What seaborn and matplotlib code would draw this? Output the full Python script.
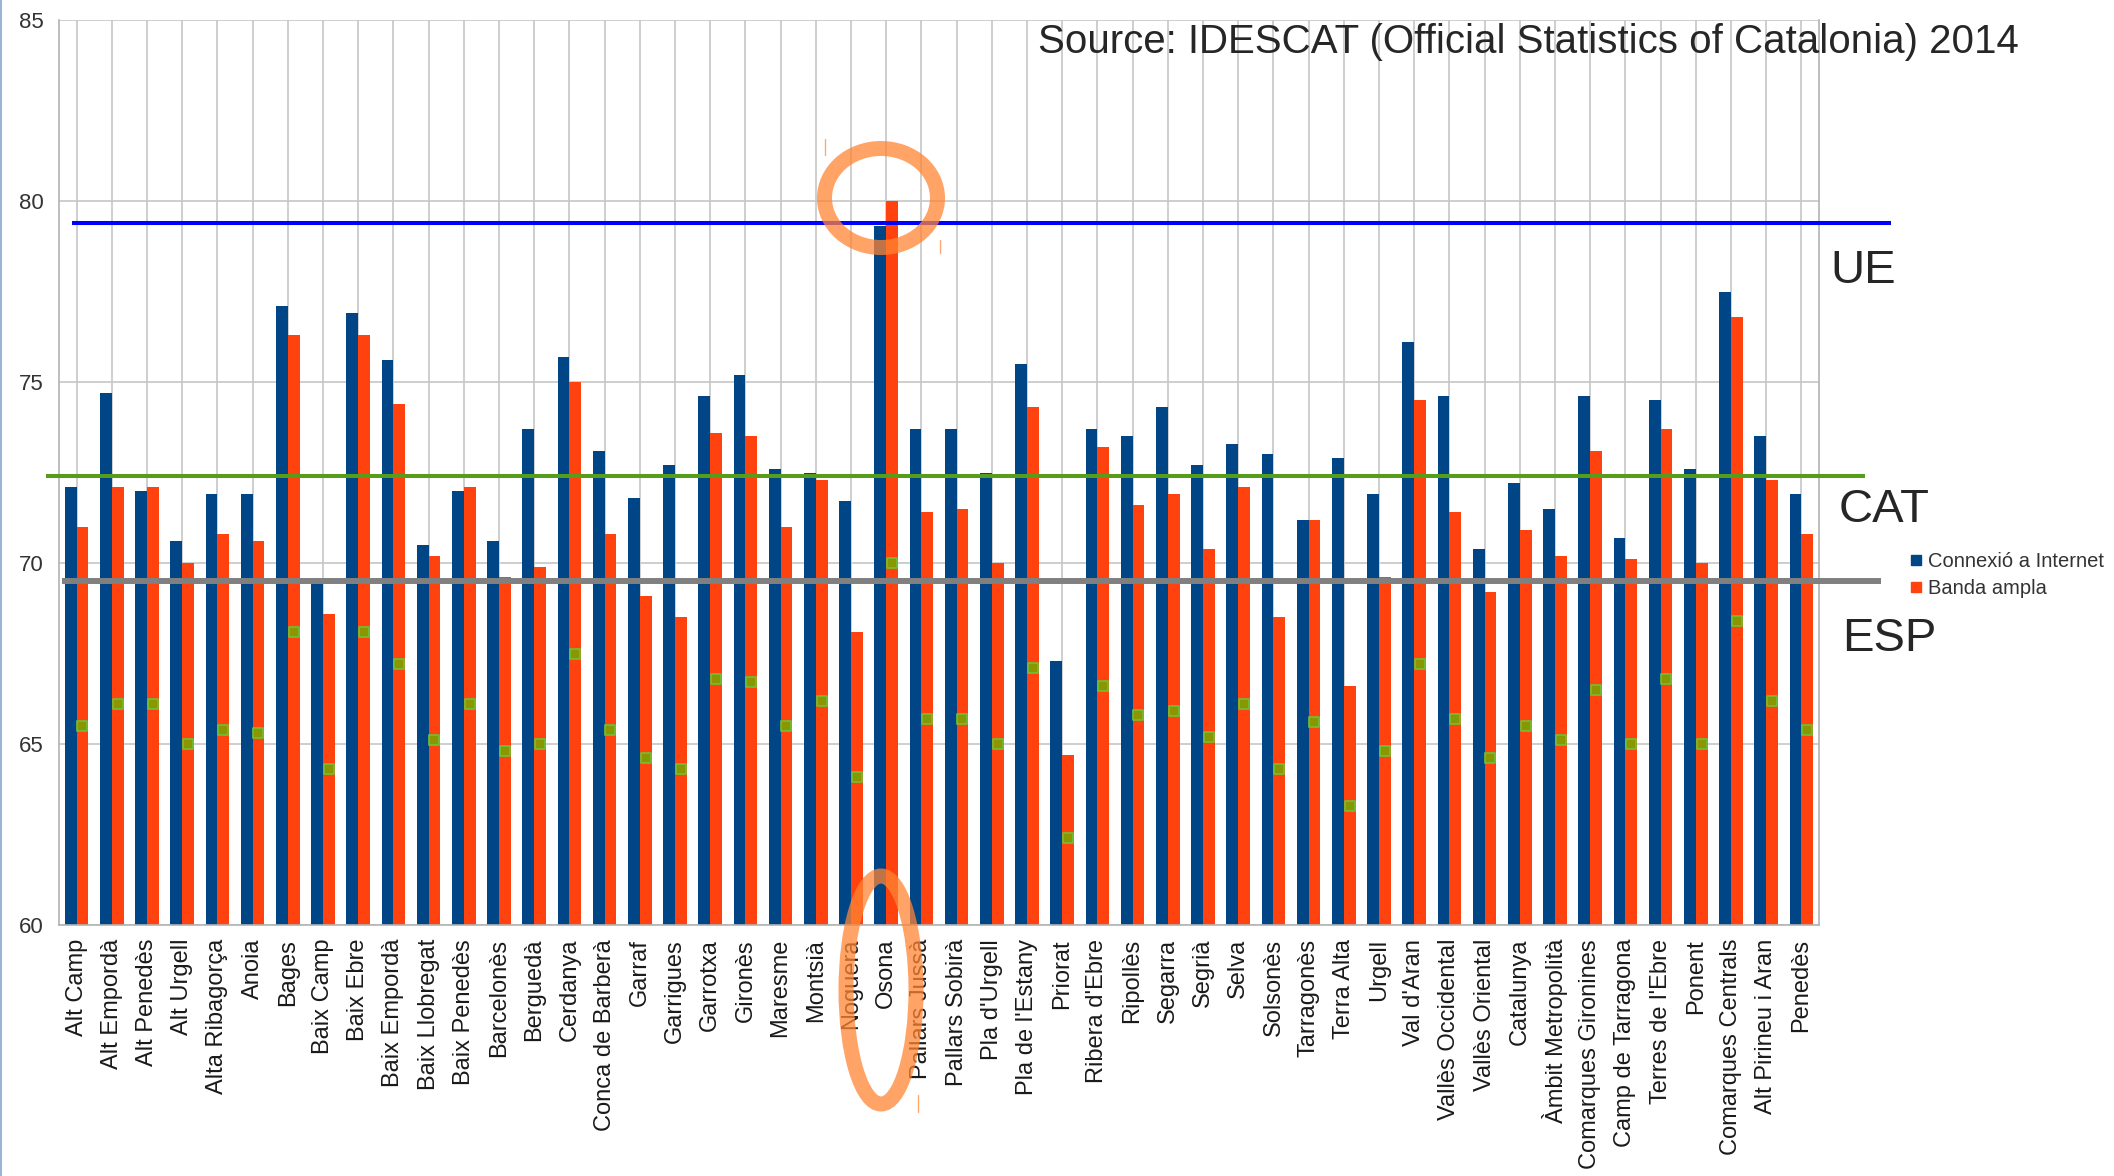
"""Internet connection and broadband by comarca, IDESCAT 2014 - bar chart with reference lines."""
import numpy as np
import pandas as pd
import matplotlib
matplotlib.use("Agg")
import matplotlib.pyplot as plt
import seaborn as sns
from matplotlib.patches import Ellipse
from matplotlib.lines import Line2D

sns.set_style("white")
plt.rcParams["font.family"] = ["Liberation Sans", "DejaVu Sans"]

# ---- data ----
comarques = ["Alt Camp", "Alt Empordà", "Alt Penedès", "Alt Urgell", "Alta Ribagorça", "Anoia",
             "Bages", "Baix Camp", "Baix Ebre", "Baix Empordà", "Baix Llobregat", "Baix Penedès",
             "Barcelonès", "Berguedà", "Cerdanya", "Conca de Barberà", "Garraf", "Garrigues",
             "Garrotxa", "Gironès", "Maresme", "Montsià", "Noguera", "Osona", "Pallars Jussà",
             "Pallars Sobirà", "Pla d'Urgell", "Pla de l'Estany", "Priorat", "Ribera d'Ebre",
             "Ripollès", "Segarra", "Segrià", "Selva", "Solsonès", "Tarragonès", "Terra Alta",
             "Urgell", "Val d'Aran", "Vallès Occidental", "Vallès Oriental", "Catalunya",
             "Àmbit Metropolità", "Comarques Gironines", "Camp de Tarragona", "Terres de l'Ebre",
             "Ponent", "Comarques Centrals", "Alt Pirineu i Aran", "Penedès"]
internet = [72.1, 74.7, 72.0, 70.6, 71.9, 71.9, 77.1, 69.5, 76.9, 75.6, 70.5, 72.0,
            70.6, 73.7, 75.7, 73.1, 71.8, 72.7, 74.6, 75.2, 72.6, 72.5, 71.7, 79.3, 73.7,
            73.7, 72.5, 75.5, 67.3, 73.7, 73.5, 74.3, 72.7, 73.3, 73.0, 71.2, 72.9,
            71.9, 76.1, 74.6, 70.4, 72.2, 71.5, 74.6, 70.7, 74.5, 72.6, 77.5, 73.5, 71.9]
banda = [71.0, 72.1, 72.1, 70.0, 70.8, 70.6, 76.3, 68.6, 76.3, 74.4, 70.2, 72.1,
         69.6, 69.9, 75.0, 70.8, 69.1, 68.5, 73.6, 73.5, 71.0, 72.3, 68.1, 80.0, 71.4,
         71.5, 70.0, 74.3, 64.7, 73.2, 71.6, 71.9, 70.4, 72.1, 68.5, 71.2, 66.6,
         69.6, 74.5, 71.4, 69.2, 70.9, 70.2, 73.1, 70.1, 73.7, 70.0, 76.8, 72.3, 70.8]
tercera = [65.5, 66.1, 66.1, 65.0, 65.4, 65.3, 68.1, 64.3, 68.1, 67.2, 65.1, 66.1,
           64.8, 65.0, 67.5, 65.4, 64.6, 64.3, 66.8, 66.7, 65.5, 66.2, 64.1, 70.0, 65.7,
           65.7, 65.0, 67.1, 62.4, 66.6, 65.8, 65.9, 65.2, 66.1, 64.3, 65.6, 63.3,
           64.8, 67.2, 65.7, 64.6, 65.5, 65.1, 66.5, 65.0, 66.8, 65.0, 68.4, 66.2, 65.4]
series = ["Connexió a Internet", "Banda ampla"]
ref_labels = ["UE", "CAT", "ESP"]
ref_values = [79.4, 72.4, 69.5]
source = "Source: IDESCAT (Official Statistics of Catalonia) 2014"

BLUE, RED = "#004586", "#ff420e"
ref_colors = ["#0000ff", "#579d1c", "#808080"]

df = pd.DataFrame({"comarca": comarques * 2,
                   "serie": [series[0]] * len(comarques) + [series[1]] * len(comarques),
                   "valor": internet + banda})

W, H = 2114, 1176
fig = plt.figure(figsize=(W / 100, H / 100), dpi=100)
ax = fig.add_axes([59 / W, 1 - 925 / H, 1760 / W, 905 / H])

sns.barplot(data=df, x="comarca", y="valor", hue="serie", order=comarques,
            hue_order=series, palette=[BLUE, RED], saturation=1, width=2 / 3, gap=0,
            linewidth=0, ax=ax, legend=False, zorder=2)

# green markers sit on the centre of the red bar
xs = np.arange(len(comarques)) + 1 / 6
ax.scatter(xs, tercera, marker="s", s=55, color="#8a9800", edgecolor="#6fbf3a",
           linewidth=1.2, zorder=6)

ax.set_ylim(60, 85)
ax.set_xlim(-0.5, len(comarques) - 0.5)
ax.set_yticks(range(60, 86, 5))
ax.set_xticks(range(len(comarques)))
ax.set_xticklabels(comarques, rotation=90, fontsize=17, color="#1a1a1a")
ax.set_xticks(np.arange(-0.5, len(comarques), 1), minor=True)
ax.tick_params(axis="x", which="major", length=0, pad=10)
ax.tick_params(axis="x", which="minor", length=6, width=1.2, color="#b3b3b3")
ax.tick_params(axis="y", length=6, width=1.2, color="#b3b3b3", labelsize=16,
               labelcolor="#333333", pad=5)
ax.grid(True, which="major", color="#c6c6c6", linewidth=1.2, zorder=0)
ax.set_axisbelow(True)
ax.set_xlabel("")
ax.set_ylabel("")
for side in ["left", "bottom", "right"]:
    ax.spines[side].set_color("#b3b3b3")
    ax.spines[side].set_linewidth(1.2)
ax.spines["top"].set_visible(False)

# reference lines (UE / CAT / ESP) running past the plot area
ytr = ax.get_yaxis_transform()
spans = [(0.0074, 1.041), (-0.0074, 1.026), (0.0017, 1.035)]
widths = [2.9, 2.9, 4.3]
for v, c, (a, b), lw in zip(ref_values, ref_colors, spans, widths):
    ax.plot([a, b], [v, v], color=c, lw=lw, transform=ytr, clip_on=False, zorder=5,
            solid_capstyle="butt")

fig.text(1830 / W, 1 - 271 / H, ref_labels[0], fontsize=34, va="center", ha="left")
fig.text(1839 / W, 1 - 510 / H, ref_labels[1], fontsize=34, va="center", ha="left")
fig.text(1842 / W, 1 - 639 / H, ref_labels[2], fontsize=34, va="center", ha="left")
fig.text(1038 / W, 1 - 42 / H, source, fontsize=29, va="center", ha="left")

# legend
handles = [Line2D([], [], marker="s", ls="", color=c, markersize=7) for c in (BLUE, RED)]
fig.legend(handles, series, loc="center left", bbox_to_anchor=(1902 / W, 1 - 575 / H),
           frameon=False, fontsize=14.5, handlelength=0.6, handletextpad=0.3,
           labelspacing=0.4, borderaxespad=0, labelcolor="#333333")

# orange highlight ellipses around Osona
oc = "#ff8533"
fig.add_artist(Ellipse((881 / W, 1 - 198 / H), 113 / W, 99 / H, fill=False,
                       edgecolor=oc, lw=10.8, alpha=0.75, transform=fig.transFigure))
fig.add_artist(Ellipse((881 / W, 1 - 990 / H), 70 / W, 228 / H, fill=False,
                       edgecolor=oc, lw=10.8, alpha=0.75, transform=fig.transFigure))
for x, y0, y1 in [(825, 139, 155), (940, 240, 253), (918, 1095, 1112)]:
    fig.add_artist(Line2D([x / W, x / W], [1 - y0 / H, 1 - y1 / H], color=oc, lw=1,
                          alpha=0.7, transform=fig.transFigure))

# slide border on the left
fig.add_artist(Line2D([0.0007, 0.0007], [0, 1], color="#9ab5d6", lw=1.5,
                      transform=fig.transFigure))

fig.savefig("out.png", dpi=100)
